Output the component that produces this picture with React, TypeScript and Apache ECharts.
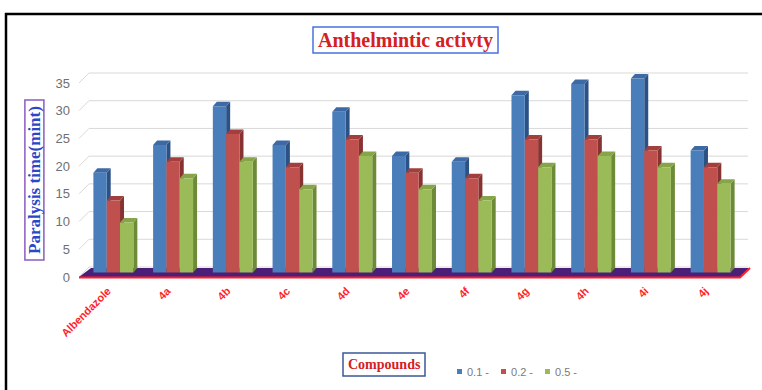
import React, { useEffect, useRef } from "react";
import * as echarts from "echarts";

const categories = ["Albendazole", "4a", "4b", "4c", "4d", "4e", "4f", "4g", "4h", "4i", "4j"];
const conc01 = [18, 23, 30, 23, 29, 21, 20, 32, 34, 35, 22];
const conc02 = [13, 20, 25, 19, 24, 18, 17, 24, 24, 22, 19];
const conc05 = [9, 17, 20, 15, 21, 15, 13, 19, 21, 19, 16];
const seriesNames = ["0.1 -", "0.2 -", "0.5 -"];
const yTicks = [0, 5, 10, 15, 20, 25, 30, 35];

// front / side / top colours for each 3D bar set
const palette = [
  { front: "#4a7ebb", side: "#2c5185", top: "#3d6aa5" },
  { front: "#c0504d", side: "#873331", top: "#a23f3c" },
  { front: "#9bbb59", side: "#6c8a37", top: "#86a548" },
];

// depth offsets of the pseudo-3D scene
const WALL = { dx: 10, dy: -10 };
const BAR_PLANE = { dx: 4.5, dy: -4.5 };
const BAR_DEPTH = { dx: 4, dy: -4.5 };

export default function App() {
  const ref = useRef<HTMLDivElement>(null);

  useEffect(() => {
    if (!ref.current) return;
    const chart = echarts.init(ref.current, undefined, { renderer: "svg" });
    const n = categories.length;

    const sceneRender = (_params: any, api: any) => {
      const bw = api.size([1, 0])[0];
      const first = api.coord([0, 0]);
      const last = api.coord([n - 1, 0]);
      const L = first[0] - bw / 2;
      const R = last[0] + bw / 2;
      const y0 = first[1];
      const children: any[] = [];
      yTicks.forEach((v) => {
        const y = api.coord([0, v])[1];
        children.push({
          type: "polyline",
          shape: {
            points: [
              [L, y],
              [L + WALL.dx, y + WALL.dy],
              [R + WALL.dx + 2, y + WALL.dy],
            ],
          },
          style: { stroke: "#d9d9d9", lineWidth: 1, fill: null },
          silent: true,
        });
      });
      children.push({
        type: "polygon",
        shape: {
          points: [
            [L, y0],
            [L + WALL.dx + 2, y0 + WALL.dy + 1],
            [R + WALL.dx + 3, y0 + WALL.dy + 1],
            [R + 4, y0],
          ],
        },
        style: { fill: "#4b1f78", stroke: null },
        silent: true,
      });
      children.push({
        type: "polyline",
        shape: {
          points: [
            [L, y0 + 0.5],
            [R + 4, y0 + 0.5],
            [R + WALL.dx + 4, y0 + WALL.dy + 1],
          ],
        },
        style: { stroke: "#ff1f2a", lineWidth: 2, fill: null },
        silent: true,
      });
      return { type: "group", children };
    };

    const makeBarRender = (si: number) => (_params: any, api: any) => {
      const idx = api.value(0);
      const val = api.value(1);
      const band = api.size([1, 0])[0];
      const w = band * 0.223;
      const top = api.coord([idx, val]);
      const base = api.coord([idx, 0]);
      const xl = top[0] + BAR_PLANE.dx + (si - 1.5) * w;
      const xr = xl + w;
      const yt = top[1] + BAR_PLANE.dy;
      const yb = base[1] + BAR_PLANE.dy;
      const c = palette[si];
      return {
        type: "group",
        children: [
          {
            type: "polygon",
            shape: {
              points: [
                [xr, yt],
                [xr + BAR_DEPTH.dx, yt + BAR_DEPTH.dy],
                [xr + BAR_DEPTH.dx, yb + BAR_DEPTH.dy],
                [xr, yb],
              ],
            },
            style: { fill: c.side },
          },
          {
            type: "polygon",
            shape: {
              points: [
                [xl, yt],
                [xl + BAR_DEPTH.dx, yt + BAR_DEPTH.dy],
                [xr + BAR_DEPTH.dx, yt + BAR_DEPTH.dy],
                [xr, yt],
              ],
            },
            style: { fill: c.top },
          },
          {
            type: "rect",
            shape: { x: xl, y: yt, width: w, height: yb - yt },
            style: { fill: c.front },
          },
        ],
      };
    };

    const valueSets = [conc01, conc02, conc05];

    chart.setOption({
      animation: false,
      title: [
        {
          text: "Anthelmintic activty",
          left: 313,
          top: 27,
          padding: [3, 5, 3, 5],
          borderColor: "#4a72e0",
          borderWidth: 1.5,
          textStyle: {
            fontFamily: "Liberation Serif",
            fontWeight: "bold",
            fontSize: 20,
            color: "#d42022",
          },
        },
        {
          text: "Compounds",
          left: 343,
          top: 353,
          padding: [4, 5, 5, 5],
          borderColor: "#3b5a98",
          borderWidth: 1.5,
          textStyle: {
            fontFamily: "Liberation Serif",
            fontWeight: "bold",
            fontSize: 14,
            color: "#d42022",
          },
        },
      ],
      legend: {
        left: 452,
        top: 361,
        itemWidth: 5,
        itemHeight: 5,
        itemGap: 12,
        icon: "rect",
        data: seriesNames,
        textStyle: { fontFamily: "Liberation Sans", fontSize: 11, color: "#7a7a7a" },
      },
      grid: { left: 79, right: 26, top: 83, bottom: 113 },
      xAxis: {
        type: "category",
        data: categories,
        axisLine: { show: false },
        axisTick: { show: false },
        axisLabel: {
          rotate: 45,
          margin: 12,
          interval: 0,
          color: "#ff1f2a",
          fontFamily: "Liberation Sans",
          fontWeight: "bold",
          fontSize: 11,
        },
      },
      yAxis: {
        type: "value",
        min: 0,
        max: 35,
        interval: 5,
        name: "Paralysis time(mint)",
        nameLocation: "middle",
        nameRotate: 90,
        nameGap: 34,
        nameTextStyle: {
          fontFamily: "Liberation Serif",
          fontWeight: "bold",
          fontSize: 17,
          color: "#2a47c8",
          borderColor: "#8a5cc0",
          borderWidth: 1.5,
          padding: [1, 6, 1, 6],
        },
        axisLine: { show: false },
        axisTick: { show: false },
        splitLine: { show: false },
        axisLabel: {
          margin: 9,
          color: "#707070",
          fontFamily: "Liberation Sans",
          fontSize: 13,
        },
      },
      graphic: [
        {
          type: "rect",
          shape: { x: 6, y: 14, width: 800, height: 420 },
          style: { fill: null, stroke: "#000", lineWidth: 2.5 },
          silent: true,
          z: 100,
        },
      ],
      series: [
        {
          type: "custom",
          name: "scene",
          renderItem: sceneRender,
          data: [[0, 0]],
          clip: false,
          silent: true,
          z: 1,
        },
        ...valueSets.map((vals, si) => ({
          type: "custom",
          name: seriesNames[si],
          renderItem: makeBarRender(si),
          data: vals.map((v, i) => [i, v]),
          encode: { x: 0, y: 1 },
          itemStyle: { color: palette[si].front },
          clip: false,
          z: 2,
        })),
      ],
    });

    return () => chart.dispose();
  }, []);

  return (
    <div style={{ position: "fixed", left: 0, top: 0, width: 762, height: 390, background: "#fff" }}>
      <div ref={ref} style={{ width: 762, height: 390 }} />
    </div>
  );
}
